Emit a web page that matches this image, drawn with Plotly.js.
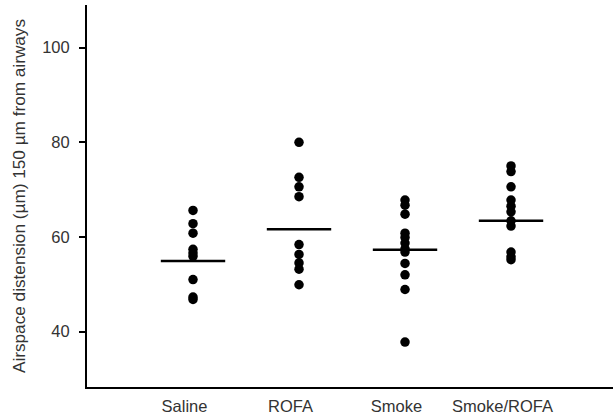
<!DOCTYPE html>
<html>
<head>
<meta charset="utf-8">
<script src="https://cdn.plot.ly/plotly-3.0.1.min.js"></script>
<style>html,body{margin:0;padding:0;background:#fff;}#chart{width:613px;height:419px;}</style>
</head>
<body>
<div id="chart"></div>
<script>
const categories = ["Saline", "ROFA", "Smoke", "Smoke/ROFA"];
const saline = [65.6, 62.8, 60.8, 57.4, 56.6, 55.9, 51.0, 47.3, 46.8];
const rofa = [80.0, 72.6, 70.6, 68.5, 58.4, 56.3, 54.5, 53.2, 49.9];
const smoke = [67.8, 66.7, 64.8, 60.8, 59.9, 58.7, 57.5, 56.8, 54.4, 52.0, 48.9, 37.8];
const smokeRofa = [75.0, 73.8, 70.6, 67.8, 66.5, 65.3, 63.4, 62.3, 56.8, 55.8, 55.2];
const means = [54.9, 61.6, 57.3, 63.4];
const yTicks = [40, 60, 80, 100];

const groups = [saline, rofa, smoke, smokeRofa];
const px = [], py = [];
groups.forEach((g, i) => g.forEach(v => { px.push(i); py.push(v); }));

const traces = [
  {
    type: "scatter", mode: "markers", x: px, y: py,
    marker: {color: "#000", size: 9.5, line: {width: 0}},
    hoverinfo: "skip", showlegend: false
  },
  {
    type: "scatter", mode: "markers",
    x: categories.map((c, i) => i), y: means,
    marker: {symbol: "line-ew", size: 46, color: "#000", line: {color: "#000", width: 2.5}},
    hoverinfo: "skip", showlegend: false
  }
];

const layout = {
  width: 613, height: 419,
  margin: {l: 87, r: 0, t: 5, b: 32},
  paper_bgcolor: "#fff", plot_bgcolor: "#fff",
  font: {family: "Liberation Sans, Arial, sans-serif", color: "#333"},
  xaxis: {
    range: [-1.0, 3.962],
    tickvals: categories.map((c, i) => i - 0.08),
    ticktext: categories,
    showgrid: false, zeroline: false,
    showline: true, linecolor: "#000", linewidth: 2,
    ticks: "", ticklabelstandoff: 3,
    tickfont: {size: 16.5, color: "#333"}
  },
  yaxis: {
    range: [28.3, 109],
    tickvals: yTicks,
    showgrid: false, zeroline: false,
    showline: true, linecolor: "#000", linewidth: 2,
    ticks: "outside", ticklen: 6, tickwidth: 2, tickcolor: "#000",
    ticklabelstandoff: 6,
    tickfont: {size: 16.5, color: "#333"},
    title: {text: "Airspace distension (µm) 150 µm from airways", font: {size: 17.2, color: "#333"}, standoff: 12}
  }
};

Plotly.newPlot("chart", traces, layout, {displayModeBar: false, staticPlot: true});
</script>
</body>
</html>
